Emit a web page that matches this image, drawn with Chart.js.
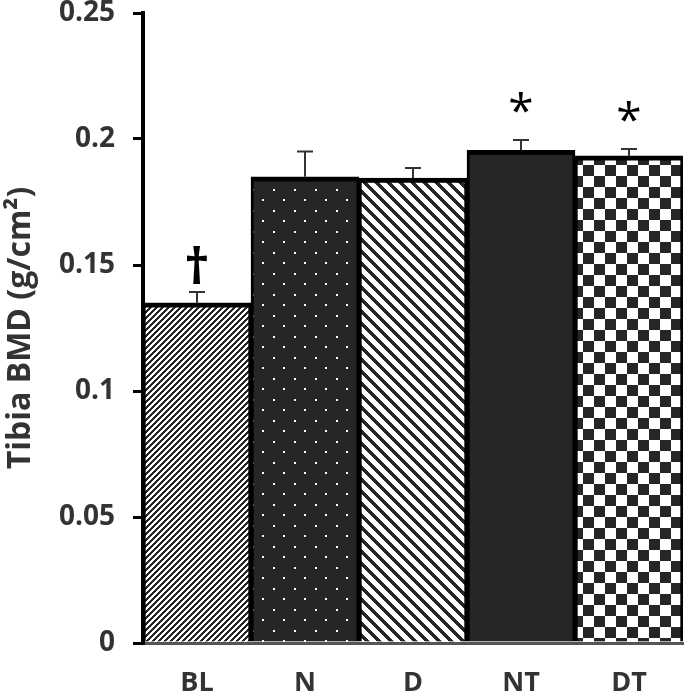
<!DOCTYPE html>
<html>
<head>
<meta charset="utf-8">
<script src="https://cdn.jsdelivr.net/npm/chart.js@4"></script>
<style>
  html, body { margin: 0; padding: 0; background: #fff; }
  #wrap { width: 685px; height: 694px; }
</style>
</head>
<body>
<div id="wrap"><canvas id="myChart"></canvas></div>
<script>
// groups along the x-axis
var groups = ["BL", "N", "D", "NT", "DT"];
// mean tibia BMD (bar heights)
var bmd = [0.135, 0.185, 0.1845, 0.1955, 0.1933];
// top of the (upward only) error bars
var bmdErrTop = [0.1393, 0.195, 0.1885, 0.1996, 0.196];
// significance marks over the bars
var marks = ["\u2020", "", "", "*", "*"];
// y-axis ticks
var yTicks = [0, 0.05, 0.1, 0.15, 0.2, 0.25];

var dark = [38, 38, 38];

// small pixel tiles for the fills
function tile(w, h, isDark) {
  var c = document.createElement("canvas");
  c.width = w; c.height = h;
  var g = c.getContext("2d");
  var img = g.createImageData(w, h);
  for (var y = 0; y < h; y++) {
    for (var x = 0; x < w; x++) {
      var i = (y * w + x) * 4;
      var d = isDark(x, y);
      img.data[i] = d ? dark[0] : 255;
      img.data[i + 1] = d ? dark[1] : 255;
      img.data[i + 2] = d ? dark[2] : 255;
      img.data[i + 3] = 255;
    }
  }
  g.putImageData(img, 0, 0);
  return g.createPattern(c, "repeat");
}

var fills = [
  tile(6, 6, function (x, y) { return (x + y) % 6 < 3; }),                 // fine "/" stripes
  tile(21, 21, function (x, y) {                                           // dots
    var a = x < 2 && y < 2;
    var b = x >= 10 && x < 12 && y >= 10 && y < 12;
    return !(a || b);
  }),
  tile(12, 12, function (x, y) { return ((x - y + 24) % 12) < 5; }),       // wide "\" stripes
  "rgb(38,38,38)",                                                         // solid
  tile(22, 22, function (x, y) { return ((Math.floor(x / 11) + Math.floor(y / 11)) % 2) === 0; }) // checks
];

var errorBars = {
  id: "errorBars",
  afterDatasetsDraw: function (chart) {
    var ctx = chart.ctx;
    var meta = chart.getDatasetMeta(0);
    var ys = chart.scales.y;
    ctx.save();
    ctx.strokeStyle = "#333";
    ctx.lineWidth = 2;
    meta.data.forEach(function (bar, i) {
      var yTop = ys.getPixelForValue(bmdErrTop[i]);
      var yBar = ys.getPixelForValue(bmd[i]);
      ctx.beginPath();
      ctx.moveTo(bar.x, yBar);
      ctx.lineTo(bar.x, yTop);
      ctx.moveTo(bar.x - 8, yTop);
      ctx.lineTo(bar.x + 8, yTop);
      ctx.stroke();

      var m = marks[i];
      if (!m) return;
      var dagger = m === "\u2020";
      ctx.fillStyle = "#000";
      ctx.font = dagger ? "bold 50px 'Open Sans'" : "46px 'Open Sans'";
      ctx.textAlign = "center";
      ctx.textBaseline = "alphabetic";
      var tm = ctx.measureText(m);
      var center = yTop - (dagger ? 27 : 38);
      var base = center + (tm.actualBoundingBoxAscent - tm.actualBoundingBoxDescent) / 2;
      ctx.fillText(m, bar.x, base);
    });
    ctx.restore();
  }
};

var ctx = document.getElementById("myChart");
var myChart = new Chart(ctx, {
  type: "bar",
  data: {
    labels: groups,
    datasets: [
      {
        data: bmd,
        backgroundColor: fills,
        borderColor: "#000",
        borderWidth: { top: 5, left: 3, right: 3, bottom: 0 },
        borderSkipped: false,
        barPercentage: 1,
        categoryPercentage: 1
      }
    ]
  },
  options: {
    responsive: true,
    maintainAspectRatio: false,
    animation: false,
    layout: { padding: { top: 13, right: 2, left: 0, bottom: 0 } },
    plugins: {
      legend: { display: false },
      tooltip: { enabled: false }
    },
    scales: {
      x: {
        grid: { display: false, drawTicks: false },
        border: { display: true, color: "#555", width: 3 },
        ticks: {
          color: "#333",
          padding: 24,
          font: { family: "'Open Sans'", size: 27, weight: "bold" }
        },
        afterFit: function (s) { s.height = 51; }
      },
      y: {
        min: 0,
        max: 0.25,
        afterBuildTicks: function (s) {
          s.ticks = yTicks.map(function (v) { return { value: v }; });
        },
        grid: {
          drawOnChartArea: false,
          color: "#000",
          lineWidth: 3,
          tickLength: 10
        },
        border: { display: true, color: "#000", width: 4 },
        ticks: {
          color: "#333",
          padding: 18,
          font: { family: "'Open Sans'", size: 28, weight: "bold" },
          callback: function (v) { return String(+Number(v).toFixed(2)); }
        },
        title: {
          display: true,
          text: "Tibia BMD (g/cm\u00B2)",
          color: "#333",
          padding: { top: 2, bottom: 0 },
          font: { family: "'Open Sans'", size: 32, weight: "bold" }
        },
        afterFit: function (s) {
          s.width = 143;
          s.paddingTop = 0;
          s.paddingBottom = 0;
        }
      }
    }
  },
  plugins: [errorBars]
});
</script>
</body>
</html>
